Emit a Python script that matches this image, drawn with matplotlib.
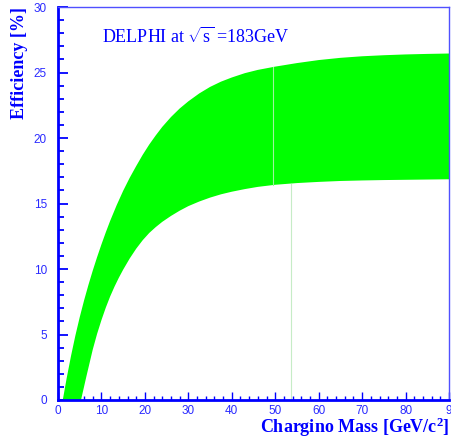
import matplotlib
matplotlib.use("Agg")
import matplotlib.pyplot as plt
import numpy as np
from matplotlib.ticker import MultipleLocator

# Efficiency band edges vs chargino mass
mass_upper = [1.1, 2.0, 3.0, 4.0, 5.0, 6.0, 7.0, 8.0, 9.0, 10.0, 11.0, 12.0, 13.5, 15.0,
              16.5, 18.0, 19.5, 21.0, 22.5, 24.0, 26.0, 28.0, 30.0, 32.5, 35.0, 37.5,
              40.0, 43.0, 46.0, 50.0, 55.0, 60.0, 65.0, 70.0, 75.0, 80.0, 85.0, 90.0]
eff_upper = [0.0, 1.67, 3.37, 4.92, 6.32, 7.6, 8.78, 9.88, 10.91, 11.88, 12.8, 13.67,
             14.87, 15.97, 16.96, 17.86, 18.72, 19.5, 20.2, 20.85, 21.6, 22.25, 22.8,
             23.4, 23.9, 24.3, 24.62, 24.95, 25.2, 25.45, 25.72, 25.95, 26.12, 26.24,
             26.32, 26.38, 26.42, 26.45]

mass_lower = [5.3, 6.5, 8.0, 9.0, 10.0, 11.0, 12.0, 13.0, 14.0, 15.0, 16.5, 18.0, 19.5,
              21.0, 22.5, 24.0, 26.0, 28.0, 30.0, 32.5, 35.0, 37.5, 40.0, 43.0, 46.0,
              50.0, 55.0, 60.0, 65.0, 70.0, 75.0, 80.0, 85.0, 90.0]
eff_lower = [0.0, 1.75, 3.85, 5.05, 6.1, 7.05, 7.9, 8.65, 9.33, 9.95, 10.8, 11.55, 12.2,
             12.75, 13.2, 13.6, 14.05, 14.45, 14.8, 15.15, 15.45, 15.7, 15.9, 16.1, 16.27,
             16.43, 16.56, 16.65, 16.72, 16.76, 16.79, 16.81, 16.83, 16.85]

# faint fill seams left by the band rendering
seam_in_band = [49.6]
seam_below_band = [53.6]

x_ticks = [0, 10, 20, 30, 40, 50, 60, 70, 80, 90]
x_tick_labels = ["0", "10", "20", "30", "40", "50", "60", "70", "80", "9"]
y_ticks = [0, 5, 10, 15, 20, 25, 30]

BLUE = "#0000ff"
LABEL_BLUE = "#2a2aff"
GREEN = "#00ff00"

plt.rcParams["mathtext.fontset"] = "custom"
plt.rcParams["mathtext.rm"] = "Liberation Serif"
plt.rcParams["mathtext.it"] = "Liberation Serif"
plt.rcParams["mathtext.bf"] = "Liberation Serif:bold"

fig = plt.figure(figsize=(4.51, 4.44), dpi=100)
ax = fig.add_axes([0.1286, 0.0991, 0.8670, 0.8851])

# band: upper edge left to right, lower edge back right to left
poly_x = mass_upper + mass_lower[::-1]
poly_y = eff_upper + eff_lower[::-1]
ax.fill(poly_x, poly_y, color=GREEN, lw=0, zorder=2)

for m in seam_in_band:
    ax.plot([m, m], [np.interp(m, mass_lower, eff_lower), np.interp(m, mass_upper, eff_upper)],
            color="#9cf59c", lw=0.8, zorder=3)
for m in seam_below_band:
    ax.plot([m, m], [0, np.interp(m, mass_lower, eff_lower)],
            color="#c6ecc6", lw=0.8, zorder=3)

ax.set_xlim(0, 90)
ax.set_ylim(0, 30)

ax.set_xticks(x_ticks)
ax.set_xticklabels(x_tick_labels)
ax.set_yticks(y_ticks)
ax.xaxis.set_minor_locator(MultipleLocator(2))
ax.yaxis.set_minor_locator(MultipleLocator(1))

ax.tick_params(axis="both", which="both", direction="in", colors=BLUE,
               labelcolor=LABEL_BLUE, top=False, right=False, labelsize=8.5)
ax.tick_params(axis="y", which="major", length=7, width=1.3, pad=8)
ax.tick_params(axis="y", which="minor", length=4, width=1.3)
ax.tick_params(axis="x", which="major", length=6, width=1.0, pad=3.5)
ax.tick_params(axis="x", which="minor", length=3, width=1.0)
for lab in ax.get_xticklabels() + ax.get_yticklabels():
    lab.set_fontfamily("Liberation Sans")

for side in ("left", "bottom"):
    ax.spines[side].set_color(BLUE)
    ax.spines[side].set_linewidth(2.0)
for side in ("top", "right"):
    ax.spines[side].set_color("#5050ff")
    ax.spines[side].set_linewidth(1.0)
for sp in ax.spines.values():
    sp.set_zorder(5)

W, H = 451.0, 444.0
fig.text(19.5 / W, 1 - 7 / H, "Efficiency [%]", rotation=90, ha="center", va="top",
         fontfamily="Liberation Serif", fontweight="bold", fontsize=13, color=BLUE)
fig.text(450 / W, 1 - 439 / H, r"Chargino Mass [GeV/c$^{\mathbf{2}}$]", ha="right", va="bottom",
         fontfamily="Liberation Serif", fontweight="bold", fontsize=13, color=BLUE)

ax.text(0.112, 0.925, r"DELPHI at $\sqrt{\mathrm{s}}$ =183GeV", transform=ax.transAxes,
        fontfamily="Liberation Serif", fontsize=13, color=BLUE, ha="left", va="center")

fig.savefig("out.png", dpi=100, facecolor="white")
